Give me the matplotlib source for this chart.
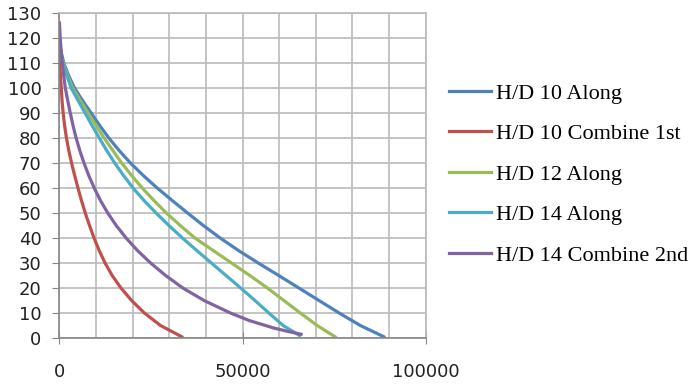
import matplotlib.pyplot as plt
from matplotlib.ticker import MultipleLocator

# depth levels (y) and the matching x values
blue_y = [118, 114, 110, 105, 100, 95, 90, 85, 80, 75, 70, 65, 60, 55, 50,
          45, 40, 35, 30, 25, 20, 15, 10, 5, 0.5]
blue_x = [0, 500, 1200, 2500, 4100, 6300, 8650, 11000, 13500, 16300, 19400,
          22900, 26700, 30800, 35000, 39300, 43900, 48900, 54300, 59900,
          65400, 70900, 76400, 82200, 88600]

red_y = [113, 108, 105, 100, 95, 90, 85, 80, 75, 70, 65, 60, 55, 50, 45, 40,
         35, 30, 25, 20, 15, 10, 5, 0.5]
red_x = [0, 150, 250, 500, 700, 1000, 1400, 1900, 2550, 3300, 4150, 5050,
         6000, 7050, 8200, 9450, 10850, 12450, 14400, 16800, 19700, 23200,
         27600, 33400]

green_y = [117, 113, 110, 105, 100, 95, 90, 85, 80, 75, 70, 65, 60, 55, 50,
           45, 40, 35, 30, 25, 20, 15, 10, 5, 0.5]
green_x = [0, 400, 1000, 2200, 3600, 5700, 7800, 10000, 12200, 14600, 17000,
           19700, 22600, 25800, 29200, 33000, 37000, 42000, 47000, 52000,
           56800, 61300, 65800, 70400, 75300]

cyan_y = [116, 113, 110, 105, 100, 95, 90, 85, 80, 75, 70, 65, 60, 55, 50,
          45, 40, 35, 30, 25, 20, 15, 10, 5, 1]
cyan_x = [0, 400, 900, 2000, 3200, 5100, 7000, 8900, 10900, 12900, 15100,
          17500, 20100, 23100, 26400, 29900, 33600, 37500, 41500, 45500,
          49500, 53400, 57200, 61100, 65600]

purple_y = [126, 120, 115, 110, 105, 100, 95, 90, 85, 80, 75, 70, 65, 60, 55,
            50, 45, 40, 35, 30, 25, 20, 15, 10, 7, 4, 2.5, 1.5]
purple_x = [0, 200, 450, 750, 1150, 1600, 2250, 2950, 3700, 4550, 5550, 6700,
            8000, 9500, 11200, 13200, 15500, 18200, 21300, 24900, 29000,
            33700, 39500, 46700, 51800, 58500, 62800, 66000]

labels = ['H/D 10 Along', 'H/D 10 Combine 1st', 'H/D 12 Along',
          'H/D 14 Along', 'H/D 14 Combine 2nd']
colors = ['#4F81BD', '#C0504D', '#9BBB59', '#4BACC6', '#8064A2']

fig = plt.figure(figsize=(6.9, 3.84), dpi=100)
ax = fig.add_axes([0.0862, 0.1198, 0.5305, 0.8462])

series = [(blue_x, blue_y), (red_x, red_y), (green_x, green_y),
          (cyan_x, cyan_y), (purple_x, purple_y)]
for (xs, ys), lab, c in zip(series, labels, colors):
    ax.plot(xs, ys, color=c, lw=2.3, label=lab, solid_joinstyle='round')

ax.set_xlim(0, 100000)
ax.set_ylim(0, 130)
ax.xaxis.set_major_locator(MultipleLocator(50000))
ax.xaxis.set_minor_locator(MultipleLocator(10000))
ax.yaxis.set_major_locator(MultipleLocator(10))

ax.grid(which='both', color='#bababa', lw=1.2)
ax.set_axisbelow(True)
for s in ['top', 'right']:
    ax.spines[s].set_color('#bababa')
    ax.spines[s].set_linewidth(1.2)
for s in ['left', 'bottom']:
    ax.spines[s].set_color('#868686')
    ax.spines[s].set_linewidth(1.2)

ax.tick_params(axis='x', which='major', direction='inout', length=8,
               color='#868686', pad=14, labelsize=13, labelcolor='#222222')
ax.tick_params(axis='x', which='minor', length=0)
ax.tick_params(axis='y', direction='out', length=5, color='#868686',
               pad=8, labelsize=13, labelcolor='#222222')

fig.legend(loc='center left', bbox_to_anchor=(0.65, 0.546), frameon=False,
           prop={'family': 'Liberation Serif', 'size': 16},
           handlelength=1.9, handletextpad=0.25, labelspacing=0.9,
           borderpad=0, borderaxespad=0)

fig.savefig('out.png', dpi=100)
